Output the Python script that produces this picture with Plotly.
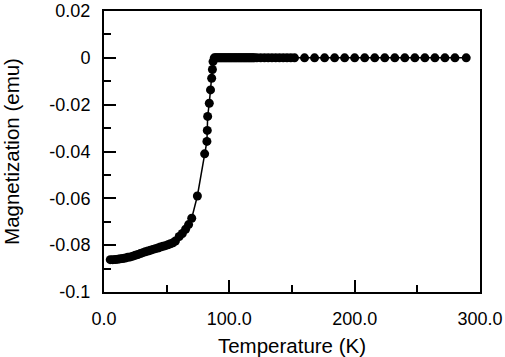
import plotly.graph_objects as go

temperature = [
    5, 7, 9, 11, 13, 15, 17, 19, 21, 23, 25, 27, 29, 31, 33, 35, 37, 39, 41, 43,
    45, 47, 49, 51, 53, 55, 57, 60, 62.5, 65.1, 67.5, 70, 74.5, 80.3, 82.1, 82.4,
    82.7, 84.0, 85.0, 85.9, 86.5, 87.0, 88,
    89, 90, 91, 92, 93, 94, 95, 96, 97, 98, 99, 100, 101, 102, 103, 104, 105, 106,
    107, 108, 109, 110, 111, 112, 113, 114, 115, 116, 117, 118, 119, 120, 122,
    125, 128, 131, 134, 137, 140, 143, 146, 149, 152,
    160, 168, 176, 184, 192, 200, 208, 216, 224, 232, 240, 248, 256, 264, 272, 280, 289,
]
magnetization = [
    -0.0862, -0.0862, -0.0861, -0.0860, -0.0858, -0.0857, -0.0855, -0.0852, -0.0850, -0.0847,
    -0.0843, -0.0840, -0.0836, -0.0832, -0.0828, -0.0825, -0.0822, -0.0818, -0.0815, -0.0812,
    -0.0808, -0.0805, -0.0802, -0.0798, -0.0794, -0.0790, -0.0782, -0.0763, -0.0750, -0.0732,
    -0.0712, -0.0685, -0.0590, -0.0410, -0.0357, -0.0310, -0.0250, -0.0194, -0.0137, -0.0087,
    -0.0050, -0.0016, 0.0,
    0, 0, 0, 0, 0, 0, 0, 0, 0, 0, 0, 0, 0, 0, 0, 0, 0, 0,
    0, 0, 0, 0, 0, 0, 0, 0, 0, 0, 0, 0, 0, 0, 0,
    0, 0, 0, 0, 0, 0, 0, 0, 0, 0,
    0, 0, 0, 0, 0, 0, 0, 0, 0, 0, 0, 0, 0, 0, 0, 0, 0,
]

x_tick_vals = [0, 100, 200, 300]
x_tick_text = ["0.0", "100.0", "200.0", "300.0"]
y_tick_vals = [-0.1, -0.08, -0.06, -0.04, -0.02, 0, 0.02]
y_tick_text = ["-0.1", "-0.08", "-0.06", "-0.04", "-0.02", "0", "0.02"]

font_family = "Liberation Sans, Arial, sans-serif"

fig = go.Figure()
fig.add_trace(go.Scatter(
    x=temperature, y=magnetization, mode="lines+markers",
    line=dict(color="black", width=1.5),
    marker=dict(color="black", size=9),
    showlegend=False, cliponaxis=False,
))

axis_common = dict(
    showgrid=False, zeroline=False, showline=True, linecolor="black", linewidth=2,
    mirror=True, ticks="inside", tickcolor="black", tickwidth=2, ticklen=12,
    tickfont=dict(family=font_family, size=18, color="black"),
    automargin=False,
)

fig.update_xaxes(
    range=[0, 300], tickvals=x_tick_vals, ticktext=x_tick_text,
    minor=dict(ticks="inside", dtick=50, ticklen=7, tickwidth=2, tickcolor="black"),
    title=dict(text="Temperature (K)", font=dict(family=font_family, size=20.5, color="black"), standoff=11),
    ticklabelstandoff=9,
    **axis_common,
)
fig.update_yaxes(
    range=[-0.1, 0.02], tickvals=y_tick_vals, ticktext=y_tick_text,
    minor=dict(ticks="inside", dtick=0.01, ticklen=7, tickwidth=2, tickcolor="black"),
    title=dict(text="Magnetization (emu)", font=dict(family=font_family, size=20.5, color="black"), standoff=30),
    ticklabelstandoff=8,
    **axis_common,
)

fig.update_layout(
    width=505, height=357,
    margin=dict(l=104, r=25, t=11, b=65),
    paper_bgcolor="white", plot_bgcolor="white",
    font=dict(family=font_family, color="black"),
)

fig.write_html("out.html", config={"displayModeBar": False},
               post_script="document.body.style.margin='0';")
